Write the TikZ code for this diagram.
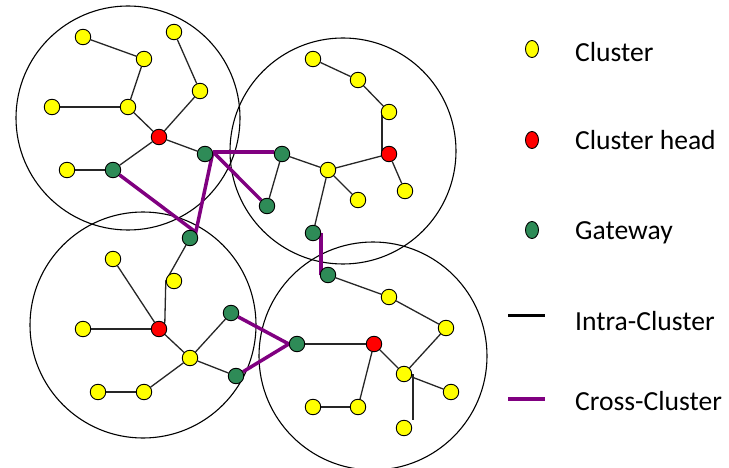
\documentclass[tikz,border=0pt]{standalone}
\usepackage{fontspec}
\setmainfont{Carlito}
\usetikzlibrary{shapes.geometric,backgrounds}
\definecolor{nyel}{RGB}{255,255,0}
\definecolor{nred}{RGB}{255,0,0}
\definecolor{ngrn}{RGB}{46,139,87}
\definecolor{npur}{RGB}{128,0,128}
\tikzset{
  base/.style={circle,draw=black,line width=0.9pt,minimum size=15.5pt,inner sep=0pt},
  yel/.style={base,fill=nyel},
  hed/.style={base,fill=nred},
  gw/.style={base,fill=ngrn},
  intra/.style={draw=black!85,line width=1.3pt},
  cross/.style={draw=npur,line width=3.5pt},
  clus/.style={draw=black,line width=1.1pt},
  legmark/.style={ellipse,draw=black,line width=0.9pt,minimum width=13pt,minimum height=17pt,inner sep=0pt},
  legtext/.style={anchor=base west,font=\fontsize{27.6}{33}\selectfont,inner sep=0pt}
}
\begin{document}
\begin{tikzpicture}[x=1pt,y=-1pt]
\useasboundingbox (0,0) rectangle (729,468);
% cluster 1
\node[yel] (Y1) at (83,37) {};
\node[yel] (Y2) at (144,59) {};
\node[yel] (Y3) at (174,32) {};
\node[yel] (Y4) at (200,91) {};
\node[yel] (Y5) at (52,107) {};
\node[yel] (Y6) at (128,107) {};
\node[hed] (R1) at (159,137) {};
\node[gw]  (G1) at (205,154) {};
\node[gw]  (G2) at (113,170) {};
\node[yel] (Y7) at (67,170) {};
% cluster 2
\node[yel] (Ya) at (313,59) {};
\node[yel] (Yb) at (358,80) {};
\node[yel] (Yc) at (389,112) {};
\node[hed] (R2) at (389,154) {};
\node[yel] (Yd) at (405,191) {};
\node[yel] (Ye) at (328,170) {};
\node[yel] (Yf) at (358,200) {};
\node[gw]  (G3) at (282,154) {};
\node[gw]  (G4) at (267,206) {};
\node[gw]  (G5) at (313,233) {};
% cluster 3
\node[gw]  (G10) at (190,238) {};
\node[yel] (Yn) at (113,259) {};
\node[yel] (Yo) at (174,281) {};
\node[yel] (Yp) at (83,329) {};
\node[hed] (R4) at (159,329) {};
\node[gw]  (G8) at (231,313) {};
\node[yel] (Yq) at (190,358) {};
\node[gw]  (G9) at (236,376) {};
\node[yel] (Yr) at (98,392) {};
\node[yel] (Ys) at (144,392) {};
% cluster 4
\node[gw]  (G6) at (328,275) {};
\node[yel] (Yg) at (389,297) {};
\node[yel] (Yh) at (446,328) {};
\node[gw]  (G7) at (297,344) {};
\node[hed] (R3) at (374,344) {};
\node[yel] (Yi) at (404,374) {};
\node[yel] (Yj) at (451,392) {};
\node[yel] (Yk) at (313,407) {};
\node[yel] (Yl) at (358,407) {};
\node[yel] (Ym) at (404,428) {};
% legend
\node[legmark,fill=nyel] (L1) at (532,49) {};
\node[legmark,fill=nred] (L2) at (532,140) {};
\node[legmark,fill=ngrn] (L3) at (532,230) {};
\coordinate (L4a) at (508,315);
\coordinate (L4b) at (545,315);
\coordinate (L5a) at (508,399);
\coordinate (L5b) at (545,399);
\draw[draw=black,line width=3pt] (L4a) -- (L4b);
\draw[cross] (L5a) -- (L5b);
\node[legtext] (T1) at (575,61.5) {Cluster};
\node[legtext] (T2) at (575,150) {Cluster head};
\node[legtext] (T3) at (575,240) {Gateway};
\node[legtext] (T4) at (575,330) {Intra-Cluster};
\node[legtext] (T5) at (575,410) {Cross-Cluster};
\begin{scope}[on background layer]
  \draw[clus] (128,118) circle[radius=112pt];
  \draw[clus] (343,151) circle[radius=113pt];
  \draw[clus] (143,325) circle[radius=113pt];
  \draw[clus] (373,356) circle[radius=114pt];
  % intra edges
  \draw[intra] (Y1) -- (Y2);
  \draw[intra] (Y2) -- (Y6);
  \draw[intra] (Y3) -- (Y4);
  \draw[intra] (Y5) -- (Y6);
  \draw[intra] (Y6) -- (R1);
  \draw[intra] (R1) -- (Y4);
  \draw[intra] (R1) -- (G1);
  \draw[intra] (R1) -- (G2);
  \draw[intra] (G2) -- (Y7);
  \draw[intra] (Ya) -- (Yb);
  \draw[intra] (Yb) -- (Yc);
  \draw[intra] ([xshift=-7pt]Yc.center) -- ([xshift=-7pt]R2.center);
  \draw[intra] (R2) -- (Ye);
  \draw[intra] (R2) -- (Yd);
  \draw[intra] (Ye) -- (G3);
  \draw[intra] (G3) -- (G4);
  \draw[intra] (Ye) -- (Yf);
  \draw[intra] (Ye) -- (G5);
  \draw[intra] (G10) -- (Yo.west) -- (R4.north east);
  \draw[intra] (Yn) -- (R4);
  \draw[intra] (Yp) -- (R4);
  \draw[intra] (R4) -- (Yq);
  \draw[intra] (Yq) -- (G8);
  \draw[intra] (Yq) -- (G9);
  \draw[intra] (Yq) -- (Ys);
  \draw[intra] (Yr) -- (Ys);
  \draw[intra] (G6) -- (Yg);
  \draw[intra] (Yg) -- (Yh);
  \draw[intra] (Yh) -- (Yi);
  \draw[intra] (G7) -- (R3);
  \draw[intra] (R3) -- (Yi);
  \draw[intra] (R3) -- (Yl);
  \draw[intra] (Yk) -- (Yl);
  \draw[intra] (Yi) -- (Yj);
  \draw[intra] ([xshift=9pt]Yi.center) -- ([xshift=9pt]Ym.north);
  % cross edges
  \draw[cross] (G1.15) -- (G3.165);
  \draw[cross] (G1.15) -- (G4);
  \draw[cross,line join=miter] (G1.15) -- (G10.north east) -- (G2);
  \draw[cross,line join=miter] (G5.east) -- (G5.east |- G6) -- (G6);
  \draw[cross,line join=miter] (G8) -- (G7.west) -- (G9);
\end{scope}
\end{tikzpicture}
\end{document}
